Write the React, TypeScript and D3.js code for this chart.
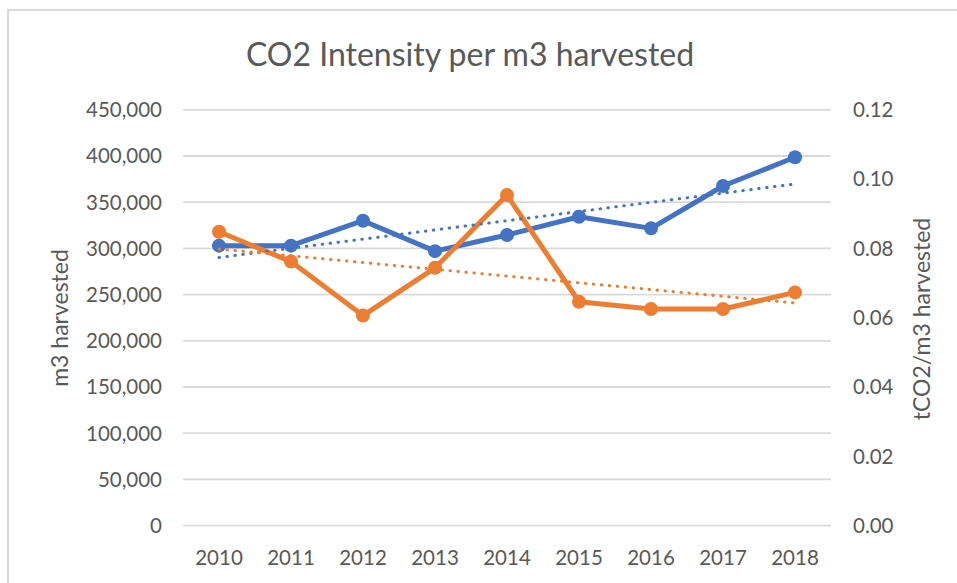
import React from 'react';
import * as d3 from 'd3';

const years = ['2010', '2011', '2012', '2013', '2014', '2015', '2016', '2017', '2018'];
const harvested = [303000, 303000, 330000, 297000, 314500, 334300, 321700, 367500, 398600];
const intensity = [0.0848, 0.0762, 0.0606, 0.0744, 0.0954, 0.0646, 0.0625, 0.0625, 0.0673];
const leftTicks = [0, 50000, 100000, 150000, 200000, 250000, 300000, 350000, 400000, 450000];
const rightTicks = [0, 0.02, 0.04, 0.06, 0.08, 0.1, 0.12];

const W = 957;
const H = 583;
const plot = { left: 183, right: 831, top: 109.8, bottom: 525.6 };
const font = 'Lato, "Noto Sans", sans-serif';
const textColor = '#595959';
const blue = '#4472C4';
const orange = '#ED7D31';

// least squares line, like the Excel linear trendline
function trend(values: number[]): [number, number] {
  const n = values.length;
  const mx = (n - 1) / 2;
  const my = d3.mean(values) || 0;
  let num = 0;
  let den = 0;
  values.forEach((v, i) => {
    num += (i - mx) * (v - my);
    den += (i - mx) * (i - mx);
  });
  const slope = num / den;
  return [my - slope * mx, my + slope * (n - 1 - mx)];
}

const App: React.FC = () => {
  const x = d3.scaleBand<string>().domain(years).range([plot.left, plot.right]);
  const cx = (year: string) => (x(year) || 0) + x.bandwidth() / 2;
  const yL = d3.scaleLinear().domain([0, 450000]).range([plot.bottom, plot.top]);
  const yR = d3.scaleLinear().domain([0, 0.12]).range([plot.bottom, plot.top]);

  const blueLine = d3.line<number>().x((_, i) => cx(years[i])).y(d => yL(d));
  const orangeLine = d3.line<number>().x((_, i) => cx(years[i])).y(d => yR(d));

  const bt = trend(harvested);
  const ot = trend(intensity);
  const first = cx(years[0]);
  const last = cx(years[years.length - 1]);

  const fmtL = d3.format(',');
  const fmtR = d3.format('.2f');

  return (
    <svg width={W} height={H} style={{ position: 'absolute', left: 0, top: 0, background: '#fff' }}>
      <rect x={8} y={10} width={W} height={H} fill="#fff" stroke="#d9d9d9" strokeWidth={2} />
      <text x={470} y={66} textAnchor="middle" fontFamily={font} fontSize={32} fill={textColor}>
        CO2 Intensity per m3 harvested
      </text>

      {leftTicks.map(t => (
        <g key={t}>
          <line x1={plot.left} x2={plot.right} y1={yL(t)} y2={yL(t)} stroke="#d9d9d9" strokeWidth={1.8} />
          <text x={162} y={yL(t)} dy="0.36em" textAnchor="end" fontFamily={font} fontSize={20.5} fill={textColor}>
            {fmtL(t)}
          </text>
        </g>
      ))}
      {rightTicks.map(t => (
        <text key={t} x={853} y={yR(t)} dy="0.36em" textAnchor="start" fontFamily={font} fontSize={20.5} fill={textColor}>
          {fmtR(t)}
        </text>
      ))}
      {years.map(yr => (
        <text key={yr} x={cx(yr)} y={565} textAnchor="middle" fontFamily={font} fontSize={20.5} fill={textColor}>
          {yr}
        </text>
      ))}

      <text transform="translate(68,318) rotate(-90)" textAnchor="middle" fontFamily={font} fontSize={23} fill={textColor}>
        m3 harvested
      </text>
      <text transform="translate(930,319) rotate(-90)" textAnchor="middle" fontFamily={font} fontSize={23} fill={textColor}>
        tCO2/m3 harvested
      </text>

      <path d={blueLine(harvested) || ''} fill="none" stroke={blue} strokeWidth={5} strokeLinejoin="round" />
      {harvested.map((v, i) => (
        <circle key={i} cx={cx(years[i])} cy={yL(v)} r={7} fill={blue} />
      ))}
      <path d={orangeLine(intensity) || ''} fill="none" stroke={orange} strokeWidth={5} strokeLinejoin="round" />
      {intensity.map((v, i) => (
        <circle key={i} cx={cx(years[i])} cy={yR(v)} r={7} fill={orange} />
      ))}

      <line x1={first} x2={last} y1={yL(bt[0])} y2={yL(bt[1])} stroke={blue} strokeWidth={3}
        strokeDasharray="0.5 7.5" strokeLinecap="round" />
      <line x1={first} x2={last} y1={yR(ot[0])} y2={yR(ot[1])} stroke={orange} strokeWidth={3}
        strokeDasharray="0.5 7.5" strokeLinecap="round" />
    </svg>
  );
};

export default App;
